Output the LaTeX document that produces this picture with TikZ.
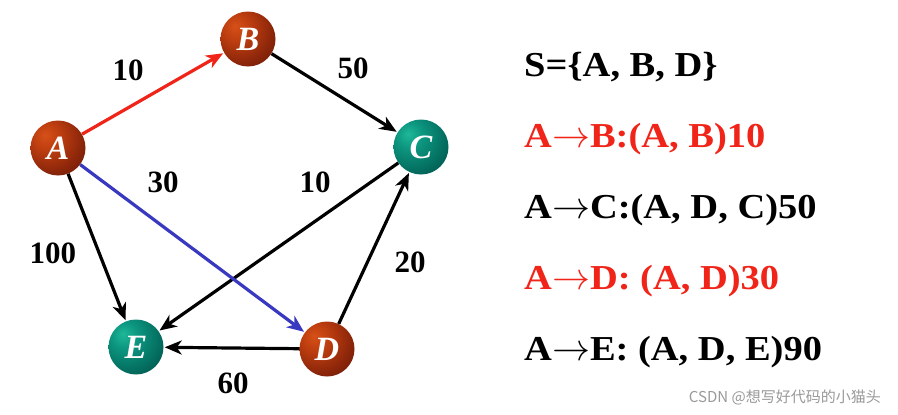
\documentclass[tikz,border=0pt]{standalone}
\usepackage{fontspec}
\setmainfont{Liberation Serif}
\newfontfamily\widefont[FakeStretch=1.1]{Liberation Serif}
\newfontfamily\cjk{Noto Sans CJK SC}
\usetikzlibrary{arrows.meta}
\definecolor{myred}{HTML}{F02418}
\definecolor{myblue}{HTML}{3838C0}
\definecolor{wmgray}{HTML}{9A9A9A}
\pgfdeclareradialshading{brownball}{\pgfpoint{-12bp}{12bp}}{%
  color(0bp)=(rgb,255:red,214;green,80;blue,24);
  color(12bp)=(rgb,255:red,190;green,62;blue,16);
  color(30bp)=(rgb,255:red,140;green,38;blue,10);
  color(45bp)=(rgb,255:red,100;green,24;blue,6);
  color(100bp)=(rgb,255:red,100;green,24;blue,6)}
\pgfdeclareradialshading{tealball}{\pgfpoint{-12bp}{12bp}}{%
  color(0bp)=(rgb,255:red,30;green,184;blue,152);
  color(12bp)=(rgb,255:red,12;green,150;blue,128);
  color(30bp)=(rgb,255:red,4;green,110;blue,96);
  color(45bp)=(rgb,255:red,0;green,76;blue,68);
  color(100bp)=(rgb,255:red,0;green,76;blue,68)}
\newcommand{\rarr}{\resizebox{38pt}{!}{$\rightarrow$}}
\tikzset{
  vtx/.style={circle, minimum size=55pt, inner sep=0pt, text=white,
    font=\fontsize{34}{34}\selectfont\bfseries\itshape},
  brownv/.style={vtx, shading=brownball},
  tealv/.style={vtx, shading=tealball},
  edge/.style={line width=3.2pt, -{Stealth[length=17pt,width=14pt,inset=5pt]}, shorten >=1pt},
  wlab/.style={font=\fontsize{31}{31}\selectfont\bfseries},
  rtext/.style={anchor=base west, font=\widefont\fontsize{35}{35}\selectfont\bfseries, inner sep=0pt}
}
\begin{document}
\begin{tikzpicture}[x=1pt,y=-1pt]
\useasboundingbox[fill=white] (0,0) rectangle (898,415);
\node[brownv] (A) at (58,148) {A};
\node[brownv] (B) at (248,39) {B};
\node[tealv] (C) at (421,147) {C};
\node[tealv] (E) at (136,347) {E};
\node[brownv] (D) at (327,349) {D};

\draw[edge, myred] (A) -- (B);
\draw[edge] (B) -- (C);
\draw[edge] (A) -- (E);
\draw[edge] (C) -- (E);
\draw[edge] (D) -- (C);
\draw[edge] (D) -- (E);
\draw[edge, myblue] (A) -- (D);

\node[wlab] (l1) at (128,70) {10};
\node[wlab] (l2) at (353,68) {50};
\node[wlab] (l3) at (163,182) {30};
\node[wlab] (l4) at (315,182) {10};
\node[wlab] (l5) at (53,253) {100};
\node[wlab] (l6) at (410,262) {20};
\node[wlab] (l7) at (233,383) {60};

\node[rtext] (t1) at (524,76) {S=\{A, B, D\}};
\node[rtext, text=myred] (t2) at (524,147) {A\rarr B:(A, B)10};
\node[rtext] (t3) at (524,218) {A\rarr C:(A, D, C)50};
\node[rtext, text=myred] (t4) at (524,289) {A\rarr D: (A, D)30};
\node[rtext] (t5) at (524,360) {A\rarr E: (A, D, E)90};

\node[anchor=east, text=wmgray, font=\cjk\fontsize{15}{15}\selectfont, inner sep=0pt] (wm) at (881,397) {CSDN @想写好代码的小猫头};
\end{tikzpicture}
\end{document}
